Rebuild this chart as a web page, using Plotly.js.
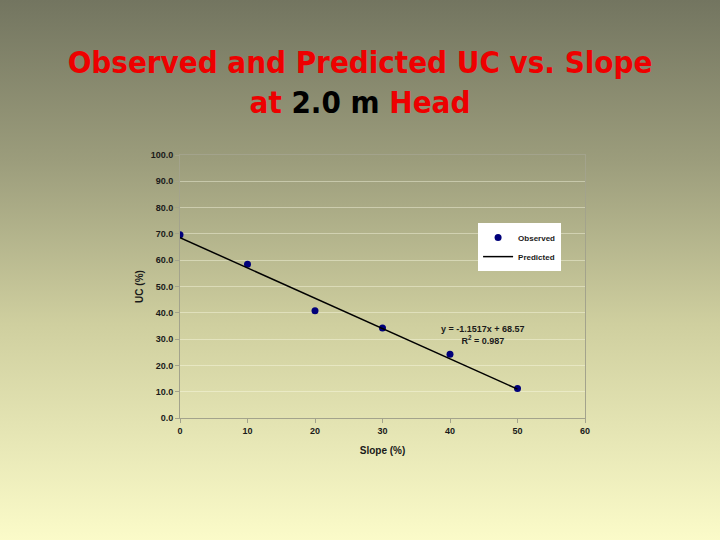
<!DOCTYPE html>
<html>
<head>
<meta charset="utf-8">
<script src="https://cdn.plot.ly/plotly-3.0.1.min.js"></script>
<style>
html,body{margin:0;padding:0;width:720px;height:540px;overflow:hidden;}
body{background:linear-gradient(to bottom,#737560 0%,#9c9d7c 30%,#cfcf9f 60%,#fbfbc9 100%);}
#chart{width:720px;height:540px;}
</style>
</head>
<body>
<div id="chart"></div>
<script>
// Observed data
const slopeObs = [0, 10, 20, 30, 40, 50];
const ucObs = [69.7, 58.5, 40.8, 34.2, 24.2, 11.2];
// Predicted (trend line) endpoints
const slopePred = [0, 50];
const ucPred = [68.57, 10.99];
const xTicks = [0, 10, 20, 30, 40, 50, 60];
const yTicks = [0, 10, 20, 30, 40, 50, 60, 70, 80, 90, 100];
const yTickText = yTicks.map(v => v.toFixed(1));

const tickFont = {family: 'Arial, "Liberation Sans", sans-serif', size: 9, color: '#1a1a1a', weight: 'bold'};

const traces = [
  {x: slopeObs, y: ucObs, name: 'Observed', type: 'scatter', mode: 'markers',
   marker: {color: '#00007a', size: 7, symbol: 'circle'}},
  {x: slopePred, y: ucPred, name: 'Predicted', type: 'scatter', mode: 'lines',
   line: {color: '#000000', width: 1.5}}
];

const layout = {
  width: 720, height: 540,
  paper_bgcolor: 'rgba(0,0,0,0)', plot_bgcolor: 'rgba(0,0,0,0)',
  margin: {l: 180, r: 135, t: 155, b: 122},
  title: {
    text: "Observed and Predicted UC vs. Slope<br>at <span style='color:#000000'>2.0 m</span> Head",
    font: {family: '"DejaVu Sans Condensed", Tahoma, sans-serif', size: 31, color: '#ee0000', weight: 'bold'},
    x: 0.5, xanchor: 'center', xref: 'container',
    y: 1 - 73/540, yref: 'container', yanchor: 'middle'
  },
  xaxis: {
    range: [0, 60], tickvals: xTicks, ticktext: xTicks.map(String),
    showgrid: false, zeroline: false, showline: true, linecolor: '#a3a38c', linewidth: 1,
    mirror: true, ticks: 'outside', ticklen: 4, tickcolor: '#a3a38c',
    tickfont: tickFont,
    title: {text: 'Slope (%)', font: {family: 'Arial, "Liberation Sans", sans-serif', size: 10, color: '#1a1a1a', weight: 'bold'}, standoff: 12}
  },
  yaxis: {
    range: [0, 100], tickvals: yTicks, ticktext: yTickText,
    showgrid: true, gridcolor: 'rgba(255,255,235,0.4)', gridwidth: 1,
    zeroline: false, showline: true, linecolor: '#a3a38c', linewidth: 1,
    mirror: true, ticks: 'outside', ticklen: 4, tickcolor: '#a3a38c',
    tickfont: tickFont,
    title: {text: 'UC (%)', font: {family: 'Arial, "Liberation Sans", sans-serif', size: 10, color: '#1a1a1a', weight: 'bold'}, standoff: 5}
  },
  legend: {
    x: 0.736, y: 0.741, xanchor: 'left', yanchor: 'top',
    bgcolor: '#ffffff', borderwidth: 0,
    font: {family: 'Arial, "Liberation Sans", sans-serif', size: 8, color: '#1a1a1a', weight: 'bold'},
    tracegroupgap: 0, itemwidth: 30
  },
  annotations: [{
    x: 44.9, y: 31.6, xref: 'x', yref: 'y', showarrow: false,
    text: 'y = -1.1517x + 68.57<br>R<sup>2</sup> = 0.987',
    font: {family: 'Arial, "Liberation Sans", sans-serif', size: 9, color: '#1a1a1a', weight: 'bold'},
    align: 'center'
  }],
  showlegend: true
};

Plotly.newPlot('chart', traces, layout, {displayModeBar: false, staticPlot: true});
</script>
</body>
</html>
